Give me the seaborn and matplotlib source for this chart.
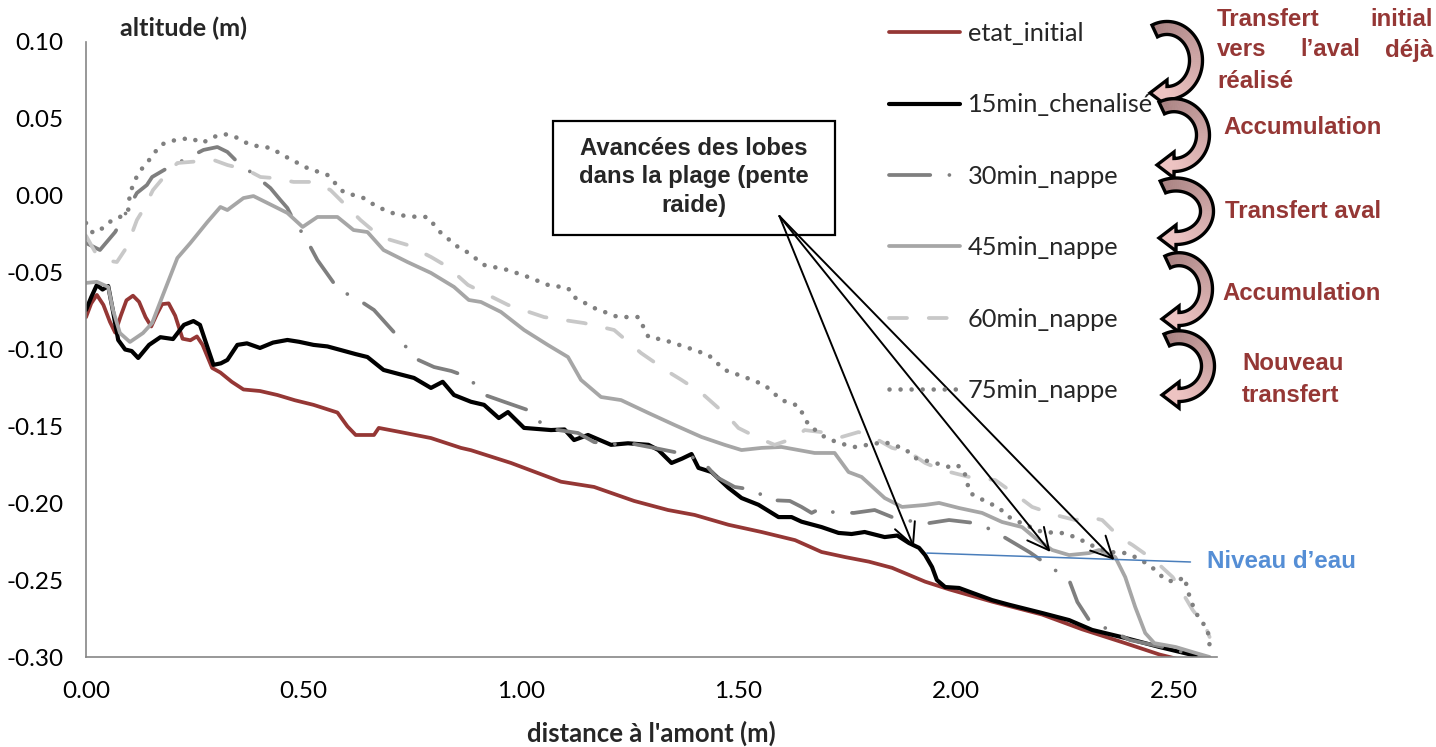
import numpy as np
import matplotlib
matplotlib.use("Agg")
import matplotlib.pyplot as plt
from matplotlib.patches import Polygon, Rectangle
from matplotlib.colors import to_rgb
from matplotlib.ticker import FixedLocator, FuncFormatter
import seaborn as sns

# ---------------- profiles: distance (m) / altitude (m) ----------------
x_init = [0.0, 0.012, 0.025, 0.04, 0.055, 0.067, 0.08, 0.093, 0.108, 0.122, 0.137, 0.15,
          0.163, 0.175, 0.19, 0.205, 0.222, 0.24, 0.255, 0.268, 0.29, 0.309, 0.335, 0.362,
          0.40, 0.44, 0.48, 0.523, 0.578, 0.601, 0.62, 0.645, 0.662, 0.673, 0.723, 0.793,
          0.862, 0.885, 0.977, 1.092, 1.168, 1.26, 1.338, 1.399, 1.477, 1.553, 1.63, 1.691,
          1.745, 1.80, 1.853, 1.929, 1.984, 2.083, 2.198, 2.29, 2.389, 2.468, 2.505, 2.55]
y_init = [-0.079, -0.070, -0.0645, -0.071, -0.082, -0.089, -0.078, -0.068, -0.065, -0.069,
          -0.079, -0.085, -0.077, -0.0705, -0.070, -0.078, -0.093, -0.094, -0.0915, -0.097,
          -0.112, -0.115, -0.121, -0.126, -0.127, -0.1296, -0.133, -0.136, -0.141, -0.150,
          -0.1556, -0.1556, -0.1556, -0.151, -0.1537, -0.1576, -0.164, -0.1655, -0.1738,
          -0.186, -0.1894, -0.1985, -0.2044, -0.2076, -0.214, -0.2187, -0.224, -0.2317,
          -0.235, -0.238, -0.242, -0.251, -0.256, -0.264, -0.2724, -0.282, -0.291, -0.2984,
          -0.301, -0.304]

x_15 = [0.0, 0.012, 0.025, 0.038, 0.051, 0.062, 0.074, 0.09, 0.105, 0.12, 0.145, 0.171,
        0.2, 0.225, 0.247, 0.262, 0.275, 0.293, 0.31, 0.325, 0.348, 0.37, 0.40, 0.43, 0.463,
        0.49, 0.523, 0.555, 0.585, 0.62, 0.647, 0.684, 0.72, 0.754, 0.793, 0.82, 0.846,
        0.885, 0.915, 0.949, 0.97, 1.007, 1.069, 1.1, 1.122, 1.154, 1.207, 1.246, 1.293,
        1.316, 1.346, 1.37, 1.392, 1.408, 1.438, 1.477, 1.507, 1.546, 1.592, 1.622, 1.645,
        1.691, 1.73, 1.76, 1.79, 1.836, 1.865, 1.892, 1.915, 1.929, 1.945, 1.956, 1.975,
        2.007, 2.083, 2.122, 2.198, 2.26, 2.313, 2.389, 2.468, 2.544, 2.59]
y_15 = [-0.0743, -0.066, -0.058, -0.061, -0.0587, -0.075, -0.0938, -0.100, -0.101, -0.1055,
        -0.097, -0.092, -0.0932, -0.084, -0.0815, -0.084, -0.095, -0.110, -0.109, -0.1068,
        -0.097, -0.096, -0.099, -0.0955, -0.0938, -0.095, -0.097, -0.098, -0.1003, -0.103,
        -0.1049, -0.1133, -0.116, -0.1185, -0.125, -0.121, -0.1296, -0.134, -0.136, -0.1446,
        -0.1407, -0.151, -0.1524, -0.152, -0.1589, -0.1556, -0.162, -0.161, -0.162, -0.1654,
        -0.1738, -0.171, -0.168, -0.177, -0.1797, -0.190, -0.1966, -0.201, -0.209, -0.209,
        -0.212, -0.2155, -0.2193, -0.220, -0.2187, -0.222, -0.221, -0.2259, -0.229, -0.2337,
        -0.2415, -0.2499, -0.2545, -0.2551, -0.263, -0.266, -0.2714, -0.276, -0.2824,
        -0.2876, -0.2935, -0.2987, -0.302]

x_30 = [0.0, 0.032, 0.067, 0.09, 0.117, 0.14, 0.152, 0.187, 0.23, 0.27, 0.302, 0.325, 0.348,
        0.385, 0.424, 0.447, 0.463, 0.477, 0.505, 0.532, 0.581, 0.62, 0.662, 0.724, 0.754,
        0.80, 0.84, 0.878, 0.917, 0.961, 1.016, 1.035, 1.076, 1.131, 1.168, 1.207, 1.26,
        1.306, 1.353, 1.415, 1.449, 1.491, 1.537, 1.569, 1.618, 1.645, 1.668, 1.691, 1.714,
        1.765, 1.813, 1.853, 1.876, 1.938, 1.984, 2.044, 2.083, 2.17, 2.26, 2.279, 2.306,
        2.343, 2.40, 2.475, 2.567]
y_30 = [-0.0307, -0.0353, -0.0236, -0.012, 0.0018, 0.007, 0.0122, 0.018, 0.024, 0.0298,
        0.0317, 0.0285, 0.022, 0.014, 0.005, -0.0028, -0.008, -0.0158, -0.0275, -0.0418,
        -0.0613, -0.0665, -0.0743, -0.0938, -0.1055, -0.1114, -0.114, -0.1179, -0.1296,
        -0.134, -0.1394, -0.1459, -0.152, -0.1543, -0.1602, -0.1615, -0.1615, -0.164,
        -0.1667, -0.1719, -0.1829, -0.1894, -0.1914, -0.1979, -0.1985, -0.2024, -0.2063,
        -0.2031, -0.2057, -0.2063, -0.2044, -0.209, -0.2109, -0.2129, -0.2109, -0.2129,
        -0.2174, -0.232, -0.2499, -0.2642, -0.276, -0.2811, -0.289, -0.2935, -0.300]

x_45 = [0.0, 0.025, 0.051, 0.062, 0.078, 0.101, 0.131, 0.152, 0.175, 0.21, 0.24, 0.279,
        0.309, 0.325, 0.362, 0.385, 0.417, 0.463, 0.498, 0.532, 0.578, 0.615, 0.647, 0.684,
        0.739, 0.793, 0.846, 0.88, 0.908, 0.954, 1.007, 1.062, 1.108, 1.138, 1.184, 1.23,
        1.293, 1.353, 1.415, 1.468, 1.507, 1.553, 1.599, 1.638, 1.675, 1.721, 1.753, 1.783,
        1.836, 1.876, 1.929, 1.961, 2.007, 2.06, 2.106, 2.152, 2.182, 2.221, 2.26, 2.306,
        2.329, 2.366, 2.389, 2.412, 2.435, 2.456, 2.505, 2.551, 2.583]
y_45 = [-0.0567, -0.056, -0.0593, -0.0743, -0.0893, -0.0951, -0.0893, -0.0828, -0.0659,
        -0.0405, -0.0307, -0.0171, -0.0073, -0.0093, -0.0015, -0.0002, -0.0047, -0.0112,
        -0.0203, -0.0138, -0.0138, -0.0223, -0.0236, -0.0353, -0.0431, -0.0502, -0.0593,
        -0.0678, -0.0691, -0.0756, -0.0873, -0.0971, -0.1049, -0.1198, -0.1309, -0.1329,
        -0.1413, -0.1491, -0.1569, -0.162, -0.1654, -0.164, -0.1634, -0.1654, -0.1673,
        -0.1673, -0.1797, -0.1829, -0.1966, -0.2024, -0.2011, -0.1998, -0.2031, -0.2063,
        -0.2122, -0.2155, -0.2226, -0.2304, -0.2337, -0.2324, -0.2304, -0.235, -0.248,
        -0.2675, -0.2844, -0.291, -0.2935, -0.2974, -0.300]

x_60 = [0.0, 0.021, 0.045, 0.071, 0.094, 0.117, 0.131, 0.154, 0.177, 0.21, 0.24, 0.293,
        0.325, 0.371, 0.401, 0.431, 0.477, 0.523, 0.562, 0.601, 0.631, 0.677, 0.739, 0.793,
        0.832, 0.878, 0.97, 1.053, 1.145, 1.214, 1.276, 1.339, 1.369, 1.415, 1.477, 1.50,
        1.546, 1.583, 1.629, 1.652, 1.707, 1.737, 1.776, 1.813, 1.853, 1.892, 1.929, 1.968,
        2.03, 2.09, 2.145, 2.175, 2.228, 2.274, 2.306, 2.336, 2.376, 2.406, 2.445, 2.468,
        2.498, 2.521, 2.544, 2.574, 2.583]
y_60 = [-0.026, -0.0366, -0.042, -0.0431, -0.0333, -0.0158, -0.0093, 0.0037, 0.0115, 0.0213,
        0.022, 0.0233, 0.020, 0.0167, 0.0122, 0.0115, 0.009, 0.009, 0.0037, -0.0073, -0.0158,
        -0.0268, -0.032, -0.0398, -0.0463, -0.058, -0.071, -0.0789, -0.0828, -0.0873,
        -0.1023, -0.1146, -0.1198, -0.1283, -0.1439, -0.1511, -0.1576, -0.162, -0.1576,
        -0.1524, -0.1543, -0.1569, -0.1537, -0.1576, -0.164, -0.1667, -0.1738, -0.1784,
        -0.1829, -0.1849, -0.196, -0.2024, -0.2076, -0.2109, -0.209, -0.2109, -0.222,
        -0.2272, -0.235, -0.2402, -0.248, -0.2584, -0.2694, -0.2805, -0.287]

x_75 = [0.0, 0.016, 0.039, 0.06, 0.083, 0.097, 0.101, 0.12, 0.14, 0.171, 0.194, 0.24, 0.267,
        0.293, 0.316, 0.339, 0.378, 0.424, 0.465, 0.509, 0.555, 0.592, 0.638, 0.67, 0.716,
        0.762, 0.785, 0.816, 0.855, 0.878, 0.915, 0.97, 1.016, 1.062, 1.108, 1.122, 1.168,
        1.223, 1.27, 1.293, 1.329, 1.385, 1.431, 1.468, 1.514, 1.56, 1.599, 1.638, 1.661,
        1.698, 1.73, 1.767, 1.836, 1.883, 1.906, 1.945, 1.984, 2.002, 2.018, 2.032, 2.053,
        2.076, 2.099, 2.122, 2.145, 2.171, 2.198, 2.244, 2.274, 2.297, 2.32, 2.353, 2.389,
        2.412, 2.445, 2.482, 2.505, 2.525, 2.539, 2.56, 2.578, 2.585]
y_75 = [-0.0177, -0.0242, -0.021, -0.0158, -0.0132, -0.0093, 0.0018, 0.0148, 0.0213, 0.033,
        0.0356, 0.0376, 0.0343, 0.0382, 0.0402, 0.0389, 0.033, 0.0311, 0.0245, 0.018, 0.0135,
        0.0024, -0.0015, -0.0073, -0.0125, -0.0138, -0.0138, -0.0242, -0.0333, -0.0369,
        -0.045, -0.0483, -0.0528, -0.058, -0.060, -0.0659, -0.073, -0.0789, -0.0789, -0.0919,
        -0.0938, -0.099, -0.1036, -0.1133, -0.1179, -0.1231, -0.1329, -0.1367, -0.1491,
        -0.1569, -0.1608, -0.1634, -0.1602, -0.1647, -0.1706, -0.1732, -0.1764, -0.1751,
        -0.1784, -0.1933, -0.1966, -0.1998, -0.2031, -0.209, -0.2122, -0.2155, -0.2187,
        -0.2194, -0.222, -0.2252, -0.2285, -0.2317, -0.2324, -0.235, -0.2402, -0.2499,
        -0.2512, -0.248, -0.263, -0.276, -0.281, -0.297]

series_names = ["etat_initial", "15min_chenalisé", "30min_nappe", "45min_nappe",
                "60min_nappe", "75min_nappe"]
series_x = [x_init, x_15, x_30, x_45, x_60, x_75]
series_y = [y_init, y_15, y_30, y_45, y_60, y_75]

x_ticks = [0.0, 0.5, 1.0, 1.5, 2.0, 2.5]
y_ticks = [-0.30, -0.25, -0.20, -0.15, -0.10, -0.05, 0.0, 0.05, 0.10]

# water level segment (m)
water_x = [1.933, 2.539]
water_y = [-0.2324, -0.2382]

# ---------------- styles ----------------
colors = ["#953735", "#000000", "#7F7F7F", "#A6A6A6", "#C8C8C8", "#808080"]
widths = [2.7, 3.0, 2.7, 2.7, 2.7, 3.3]
styles = [None, None, (11, 5.1, 0.01, 5.1), None, (4.8, 5.8), (0.01, 2.4)]

sns.set_style("white")
plt.rcParams["font.family"] = ["Lato", "DejaVu Sans"]

W, H = 1436, 747
fig = plt.figure(figsize=(W / 100, H / 100), dpi=100)


def fx(px):
    return px / W


def fy(py):
    return 1 - py / H


ax = fig.add_axes([fx(86), fy(657), (1217 - 86) / W, (657 - 42) / H])

for name, xs, ys, c, lw, ds in zip(series_names, series_x, series_y, colors, widths, styles):
    sns.lineplot(x=xs, y=ys, ax=ax, color=c, linewidth=lw, label=name,
                 sort=False, estimator=None)
    line = ax.lines[-1]
    line.set_solid_capstyle("round")
    line.set_solid_joinstyle("round")
    line.set_dash_capstyle("round")
    if ds is not None:
        line.set_linestyle((0, ds))

ax.set_xlim(0, 2.6)
ax.set_ylim(-0.30, 0.10)
ax.xaxis.set_major_locator(FixedLocator(x_ticks))
ax.yaxis.set_major_locator(FixedLocator(y_ticks))


def fmt(v, _):
    s = f"{v:.2f}"
    return "0.00" if s == "-0.00" else s


ax.xaxis.set_major_formatter(FuncFormatter(fmt))
ax.yaxis.set_major_formatter(FuncFormatter(fmt))
for side in ["top", "right"]:
    ax.spines[side].set_visible(False)
for side in ["left", "bottom"]:
    ax.spines[side].set_color("#868686")
    ax.spines[side].set_linewidth(1.2)
ax.tick_params(axis="both", direction="out", length=6, width=1.2, color="#868686",
               labelsize=17.5, labelcolor="black")
ax.tick_params(axis="y", pad=10)
ax.tick_params(axis="x", pad=11)
ax.set_xlabel("")
ax.set_ylabel("")

# water level
ax.plot(water_x, water_y, color="#4A7EBB", linewidth=1.1)

# legend
handles, labels = ax.get_legend_handles_labels()
leg = ax.legend(handles[:6], labels[:6], loc="upper left",
                bbox_to_anchor=(fx(889), fy(22)), bbox_transform=fig.transFigure,
                frameon=False, fontsize=18.3, handlelength=2.8, handletextpad=0.3,
                labelspacing=1.905, borderpad=0, borderaxespad=0)
for lh in leg.get_lines():
    lh.set_dash_capstyle("round")
    lh.set_solid_capstyle("round")

# axis titles
fig.text(fx(120), fy(28), "altitude (m)", ha="left", va="center",
         fontsize=18.2, fontweight="bold")
fig.text(fx(651), fy(733), "distance à l'amont (m)", ha="center", va="center",
         fontsize=18.5, fontweight="bold")

# annotation box with arrows to the lobe fronts
bold_arial = dict(family=["Liberation Sans", "DejaVu Sans"], fontweight="bold")
fig.patches.append(Rectangle((fx(553), fy(235)), fx(835) - fx(553), fy(121) - fy(235),
                             transform=fig.transFigure, fill=False, edgecolor="black",
                             linewidth=1.6))
fig.text(fx(694), fy(177), "Avancées des lobes\ndans la plage (pente\nraide)",
         ha="center", va="center", multialignment="center", fontsize=17.2,
         linespacing=1.3, **bold_arial)
start = (1.594, -0.0132)
for tip in [(1.903, -0.2285), (2.217, -0.2317), (2.364, -0.2369)]:
    ax.annotate("", xy=tip, xytext=start,
                arrowprops=dict(arrowstyle="->,head_length=0.7,head_width=0.35",
                                lw=1.4, color="black", shrinkA=0, shrinkB=0,
                                mutation_scale=22))

fig.text(fx(1207), fy(561), "Niveau d’eau", ha="left", va="center", color="#558ED5",
         fontsize=17.4, **bold_arial)


# curved process arrows (drawn in pixel space, converted to figure fraction)
def curved_arrow(tip_x, tip_y, top_y, right_x, c_tail="#A98383", c_head="#EDC3C2"):
    hl, hw, h = 17.0, 13.0, 6.5
    t0 = np.radians(115)
    cx = tip_x + hl
    ry = (tip_y - top_y) / (1 + np.sin(t0))
    cy = tip_y - ry
    rx = right_x - cx
    th = np.linspace(t0, -np.pi / 2, 60)
    outer = np.column_stack([cx + (rx + h) * np.cos(th), cy - (ry + h) * np.sin(th)])
    inner = np.column_stack([cx + (rx - h) * np.cos(th), cy - (ry - h) * np.sin(th)])
    base = np.array([cx, cy + ry])
    head = [base + [0, hw], [tip_x, tip_y], base - [0, hw]]

    def tf(pts):
        return [(fx(p[0]), fy(p[1])) for p in pts]

    c0, c1 = np.array(to_rgb(c_tail)), np.array(to_rgb(c_head))
    n = len(th) - 1
    for i in range(n):
        col = c0 + (c1 - c0) * (i / n)
        quad = [outer[i], outer[i + 1], inner[i + 1], inner[i]]
        fig.patches.append(Polygon(tf(quad), closed=True, transform=fig.transFigure,
                                   facecolor=col, edgecolor=col, linewidth=0.6))
    fig.patches.append(Polygon(tf(head), closed=True, transform=fig.transFigure,
                               facecolor=c1, edgecolor=c1, linewidth=0.6))
    outline = list(outer) + head + list(inner[::-1])
    fig.patches.append(Polygon(tf(outline), closed=True, transform=fig.transFigure,
                               fill=False, edgecolor="black", linewidth=2.4,
                               joinstyle="miter"))


for spec in [(1150, 93, 31, 1196), (1157, 165, 108, 1203), (1159, 238, 187, 1207),
             (1162, 319, 262, 1206), (1162, 395, 340, 1208)]:
    curved_arrow(*spec)

red = "#953735"
red_txt = dict(color=red, fontsize=17.3, va="center", **bold_arial)
fig.text(fx(1217), fy(19), "Transfert", ha="left", **red_txt)
fig.text(fx(1433), fy(19), "initial", ha="right", **red_txt)
fig.text(fx(1217), fy(50), "vers", ha="left", **red_txt)
fig.text(fx(1300), fy(50), "l’aval", ha="left", **red_txt)
fig.text(fx(1433), fy(50), "déjà", ha="right", **red_txt)
fig.text(fx(1217), fy(82), "réalisé", ha="left", **red_txt)
fig.text(fx(1223), fy(128), "Accumulation", ha="left", **red_txt)
fig.text(fx(1225), fy(211), "Transfert aval", ha="left", **red_txt)
fig.text(fx(1222), fy(293), "Accumulation", ha="left", **red_txt)
fig.text(fx(1242), fy(363), "Nouveau", ha="left", **red_txt)
fig.text(fx(1242), fy(395), "transfert", ha="left", **red_txt)

fig.savefig("out.png", dpi=100)
